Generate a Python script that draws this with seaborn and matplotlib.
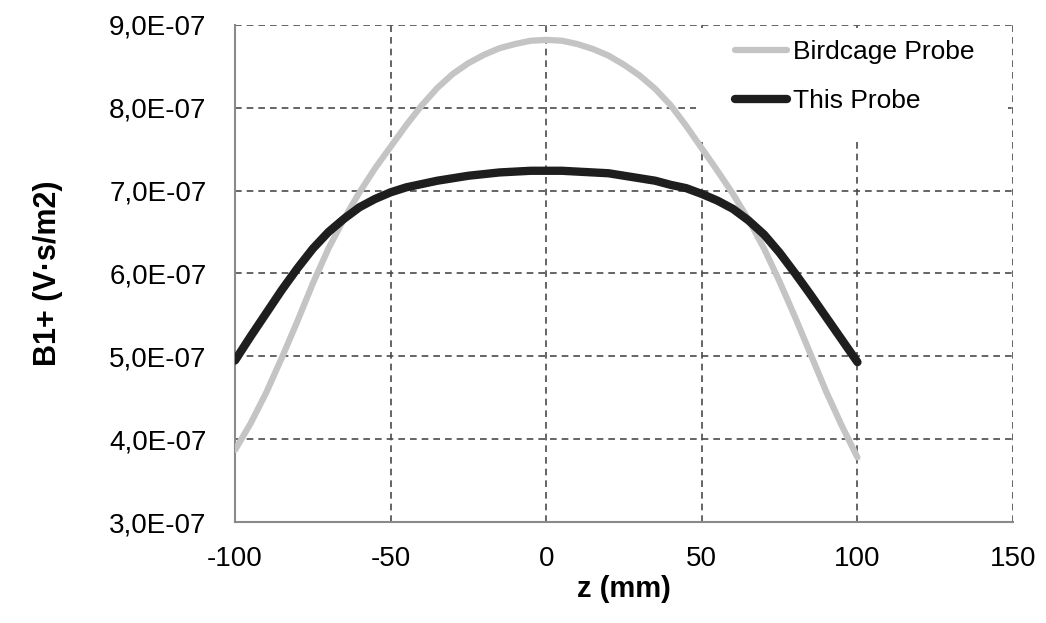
import pandas as pd
from matplotlib import pyplot as plt
from matplotlib.patches import Rectangle
from matplotlib.ticker import FuncFormatter
import seaborn as sns

# z positions in mm
z_mm = [-100, -95, -90, -85, -80, -75, -70, -65, -60, -55, -50, -45, -40, -35, -30, -25, -20,
        -15, -10, -5, 0, 5, 10, 15, 20, 25, 30, 35, 40, 45, 50, 55, 60, 65, 70, 75, 80, 85,
        90, 95, 100]

# B1+ values in units of 1E-07 V.s/m2
birdcage = [3.87, 4.19, 4.56, 4.98, 5.42, 5.88, 6.30, 6.66, 6.98, 7.27, 7.53, 7.79, 8.03, 8.24,
            8.41, 8.54, 8.64, 8.72, 8.77, 8.81, 8.82, 8.81, 8.77, 8.71, 8.63, 8.52, 8.39, 8.23,
            8.03, 7.78, 7.51, 7.24, 6.96, 6.65, 6.30, 5.90, 5.47, 5.02, 4.57, 4.16, 3.78]
this_probe = [4.95, 5.24, 5.52, 5.80, 6.06, 6.30, 6.50, 6.66, 6.80, 6.90, 6.98, 7.04, 7.08, 7.12,
              7.15, 7.18, 7.20, 7.22, 7.23, 7.24, 7.24, 7.24, 7.23, 7.22, 7.21, 7.18, 7.15, 7.12,
              7.07, 7.03, 6.96, 6.88, 6.78, 6.64, 6.47, 6.25, 6.00, 5.74, 5.47, 5.20, 4.93]

x_ticks = [-100, -50, 0, 50, 100, 150]
y_ticks = [3, 4, 5, 6, 7, 8, 9]

birdcage_df = pd.DataFrame({"z": z_mm, "b1": [v * 1e-7 for v in birdcage]})
probe_df = pd.DataFrame({"z": z_mm, "b1": [v * 1e-7 for v in this_probe]})

sns.set_style("white")
plt.rcParams['font.family'] = ['Liberation Sans', 'DejaVu Sans']
plt.rcParams['axes.unicode_minus'] = False
plt.rcParams['text.color'] = "black"
plt.rcParams['axes.labelcolor'] = "black"
plt.rcParams['xtick.color'] = "black"
plt.rcParams['ytick.color'] = "black"

fig, ax = plt.subplots(figsize=(10.46, 6.23), dpi=100)
fig.subplots_adjust(left=0.2247, right=0.9685, top=0.9599, bottom=0.1621)

sns.lineplot(ax=ax, data=birdcage_df, x="z", y="b1", color="#c4c4c4", linewidth=4.5,
             label="Birdcage Probe", zorder=3, solid_joinstyle="round")
sns.lineplot(ax=ax, data=probe_df, x="z", y="b1", color="#1e1e1e", linewidth=6,
             label="This Probe", zorder=4, solid_joinstyle="round")

ax.set_xlim(x_ticks[0], x_ticks[-1])
ax.set_ylim(y_ticks[0] * 1e-7, y_ticks[-1] * 1e-7)
ax.set_xticks(x_ticks)
ax.set_yticks([t * 1e-7 for t in y_ticks])
ax.yaxis.set_major_formatter(FuncFormatter(lambda v, p: f"{v / 1e-7:.1f}".replace(".", ",") + "E-07"))

ax.grid(True, linestyle=(0, (4, 3)), color="#4a4a4a", linewidth=1.2)
ax.set_axisbelow(True)
for s in ["top", "right"]:
    ax.spines[s].set_visible(False)
for s in ["left", "bottom"]:
    ax.spines[s].set_color("#8a8a8a")
    ax.spines[s].set_linewidth(1.5)

ax.tick_params(axis="both", direction="inout", length=9, width=1.2, color="#8a8a8a")
ax.tick_params(axis="y", labelsize=20, pad=16)
ax.tick_params(axis="x", labelsize=20, pad=13)

ax.set_xlabel("z (mm)", fontsize=21, fontweight="bold", labelpad=2)
ax.set_ylabel("B1+ (V\u00b7s/m2)", fontsize=22, fontweight="bold", labelpad=33)

# white box behind legend hides the grid there
ax.add_patch(Rectangle((0.593, 0.7726), 0.40, 0.221, transform=ax.transAxes,
                       facecolor="white", edgecolor="none", zorder=1.5))
ax.legend(loc="upper left", bbox_to_anchor=(0.642, 0.970), frameon=False, fontsize=19,
          handlelength=2.0, handletextpad=0.2, labelspacing=0.95, borderpad=0, borderaxespad=0)

plt.savefig("out.png", dpi=100)
